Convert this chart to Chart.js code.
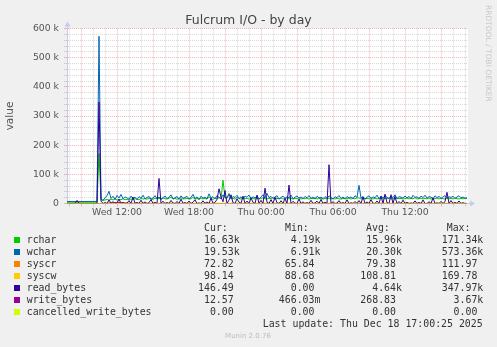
<!DOCTYPE html>
<html><head><meta charset="utf-8">
<script src="https://cdn.jsdelivr.net/npm/chart.js@4/dist/chart.umd.min.js"></script>
<style>
html,body{margin:0;padding:0;background:#f0f0f0;}
#wrap{position:relative;width:497px;height:347px;overflow:hidden;background:#f0f0f0;}
canvas{position:absolute;left:0;top:0;}
.t{position:absolute;white-space:pre;}
.mono{font-family:"DejaVu Sans Mono",monospace;font-size:9.9px;line-height:12px;color:#333;}
.sw{position:absolute;width:6px;height:6px;}
</style></head>
<body><div id="wrap"><canvas id="c" width="497" height="347"></canvas>
<div class="t" style="left:0;width:497px;top:11.5px;text-align:center;font-family:'DejaVu Sans';font-size:12.5px;line-height:15px;color:#444;">Fulcrum I/O - by day</div>
<div class="t" style="left:483.5px;top:5px;writing-mode:vertical-rl;font-family:'DejaVu Sans';font-size:7.5px;line-height:9px;color:#c8c8c8;">RRDTOOL / TOBI OETIKER</div>
<div id="legend"></div>
<div class="t mono" style="right:14.3px;top:318px;">Last update: Thu Dec 18 17:00:25 2025</div>
<div class="t" style="left:0;width:496px;text-align:center;top:331.5px;font-family:'DejaVu Sans';font-size:7px;line-height:9px;color:#bdbdbd;">Munin 2.0.76</div>
</div>
<script>
// ---- data (values in thousands) ----
const startHour = 7 + 50/60;   // Wed 07:50, hours since Wed 00:00
const stepHours = 1/6;         // 10-minute samples
const endHour = 41.25;         // Thu 17:15

const seriesNames = ['rchar','wchar','syscr','syscw','read_bytes','write_bytes','cancelled_write_bytes'];
const seriesColors = ['#00cc00','#0066b3','#ff8000','#ffcc00','#330099','#990099','#ccff00'];

const rchar = [4.3,4.2,4.3,4.2,4.4,4.3,4.2,4.3,4.2,4.3,4.2,4.3,4.2,4.4,4.3,4.3,
171.3,
13.1,10.2,12.4,
13.8,11.5,14.9,12.2,15.6,11.9,14.1,12.8,16.2,13.0,
14.6,12.3,15.8,13.4,16.7,14.0,12.9,17.1,15.2,16.4,
14.8,17.6,15.9,14.2,18.3,16.1,17.4,15.0,18.8,16.6,
15.3,17.9,21.4,15.7,17.2,14.6,16.8,19.5,15.4,16.3,
18.1,14.9,16.7,20.6,15.5,17.0,14.4,18.7,15.8,17.3,
15.1,22.8,16.4,14.3,18.5,15.9,20.1,16.2,80.2,18.4,
19.6,34.6,16.0,17.7,14.8,21.3,16.5,15.2,19.0,16.3,
17.8,14.7,20.4,16.9,15.3,18.6,14.9,17.2,19.8,16.0,
15.6,17.9,16.8,20.2,15.0,17.5,16.1,18.9,15.4,16.7,
19.3,15.8,17.6,14.9,18.2,16.4,20.0,15.3,17.0,16.2,
18.4,15.1,17.3,16.6,19.1,15.5,16.9,18.0,15.2,17.4,
16.0,18.7,15.7,17.1,15.4,17.8,16.3,15.0,17.5,16.1,
16.8,18.5,15.3,17.6,16.2,19.4,18.9,15.6,17.0,15.2,
17.7,16.0,19.2,15.1,17.9,15.8,16.9,18.8,15.5,17.2,
16.1,18.3,15.4,17.0,15.0,18.9,16.4,17.5,15.3,16.8,
18.6,15.7,17.4,16.2,19.8,15.5,16.7,18.1,15.9,17.3,
16.0,18.7,15.2,17.1,16.5,18.4,15.8,17.7,16.3,15.6,
18.2,16.1,17.2,15.7,18.6,16.6,15.4,17.5,16.2,17.0,16.63];

const wchar = [7.0,6.9,7.1,7.0,6.95,7.0,7.1,6.9,7.0,7.0,6.9,7.1,7.0,6.95,7.0,7.0,
573.4,
15.2,10.8,19.6,
26.4,41.8,17.3,24.9,14.1,27.6,18.5,31.2,16.0,22.7,
19.4,14.6,25.3,16.8,21.9,13.7,23.8,17.5,28.4,15.9,
20.6,24.2,14.8,18.9,27.1,16.2,22.5,13.9,20.1,25.8,
16.7,21.3,29.6,15.4,19.8,24.0,14.2,26.3,17.9,20.8,
24.5,15.8,20.2,31.4,16.9,22.6,13.8,25.0,18.3,21.7,
15.5,33.2,19.0,23.4,16.4,27.2,21.1,16.6,29.5,22.3,
18.1,31.8,16.0,24.1,20.3,28.0,17.2,22.9,15.1,25.6,
21.2,29.0,16.5,23.0,18.8,26.1,15.6,21.8,30.2,18.4,
34.8,20.0,24.3,16.9,22.4,26.7,15.3,20.7,25.4,17.8,
23.2,19.1,28.7,16.1,21.4,25.9,17.9,22.8,16.6,24.4,
19.6,27.3,17.2,22.1,15.0,24.8,19.3,21.6,16.8,23.7,
18.4,26.2,20.5,15.4,23.2,19.8,27.5,17.4,22.0,16.3,
23.9,19.0,22.6,16.8,26.7,21.1,62.5,18.6,23.4,15.8,
21.5,26.4,17.6,22.7,19.6,28.6,16.2,24.2,19.2,27.0,
20.8,17.1,25.1,20.2,30.0,16.6,23.1,21.9,18.1,25.7,
18.9,24.4,16.1,28.0,21.0,23.0,17.3,25.3,20.0,28.2,
17.9,23.7,21.6,16.7,26.3,20.3,24.3,17.7,22.4,27.3,
19.4,23.0,20.7,24.9,17.5,22.2,26.6,19.7,22.0,18.5,19.53];

const readBytes = [0,0,0,0,0,10.5,0,0,0,0,0,0,0,0,0,0,
348.0,
8.2,0,3.1,
0,12.4,0.5,6.3,0,2.1,14.8,0,4.6,0,
1.2,9.7,0,22.5,0.8,3.4,0,11.2,0,5.5,
0,2.7,13.6,0,4.1,0,86.0,0.6,7.9,0,
3.2,0,10.4,1.5,0,6.8,0,15.1,0.4,2.9,
0,8.6,0,4.4,12.9,0,1.8,0,9.3,0.7,
5.1,0,18.6,0,3.7,14.2,50.5,22.4,6.0,44.8,
0,11.7,30.1,2.3,0,16.5,4.9,0,25.3,0,
8.4,0,19.2,3.6,0,28.7,0,10.9,0,52.6,
4.2,0,13.4,0,21.8,2.5,0,9.6,0,17.3,
0,63.2,0,7.5,1.1,0,15.7,0,5.8,0,
3.3,0,11.0,0,2.0,8.1,0,14.3,0,4.7,
0,133.0,0,6.2,0,1.4,9.9,0,3.0,0,
12.6,0,2.4,0,7.0,0,10.1,0,23.0,0,
5.3,0,13.8,0.9,0,8.7,0,25.4,0,32.1,
2.6,0,30.2,0,24.8,0,6.6,0,11.5,0,
4.0,0,1.7,0,9.0,0,3.5,0,12.2,0,
0,5.9,0,19.4,0,2.2,0,7.3,0,6.4,
38.4,0,10.2,0,3.9,0,8.8,0,2.7,0,0.146];

// hourly samples for the tiny series
const hoursCoarse = [7.833,9,10,11,12,13,14,15,16,17,18,19,20,21,22,23,24,25,26,27,28,29,30,31,32,33,34,35,36,37,38,39,40,41,41.167];
const syscr = [0.066,0.067,0.066,0.068,0.112,0.085,0.079,0.077,0.080,0.082,0.076,0.078,0.081,0.079,0.077,0.080,0.078,0.083,0.079,0.076,0.078,0.080,0.077,0.079,0.082,0.078,0.076,0.080,0.079,0.077,0.081,0.078,0.079,0.080,0.073];
const syscw = [0.089,0.090,0.089,0.091,0.170,0.120,0.108,0.110,0.106,0.112,0.104,0.107,0.111,0.108,0.105,0.110,0.107,0.113,0.109,0.104,0.108,0.110,0.106,0.109,0.112,0.107,0.105,0.110,0.108,0.106,0.111,0.107,0.108,0.109,0.098];
const writeBytes = [0.001,0.002,0.001,0.003,3.67,0.45,0.30,0.22,0.28,0.25,0.31,0.19,0.27,0.24,0.33,0.21,0.26,0.29,0.23,0.30,0.20,0.27,0.25,0.32,0.22,0.28,0.24,0.26,0.30,0.21,0.27,0.25,0.23,0.29,0.013];
const cancelled = [0,0,0,0,0,0,0,0,0,0,0,0,0,0,0,0,0,0,0,0,0,0,0,0,0,0,0,0,0,0,0,0,0,0,0];

const xTickLabels = {12:'Wed 12:00', 18:'Wed 18:00', 24:'Thu 00:00', 30:'Thu 06:00', 36:'Thu 12:00'};

// legend table text
const legendCur = [' 16.63k',' 19.53k',' 72.82 ',' 98.14 ','146.49 ',' 12.57 ','  0.00 '];
const legendMin = ['  4.19k','  6.91k',' 65.84 ',' 88.68 ','  0.00 ','466.03m','  0.00 '];
const legendAvg = [' 15.96k',' 20.30k',' 79.38 ','108.81 ','  4.64k','268.83 ','  0.00 '];
const legendMax = ['171.34k','573.36k','111.97 ','169.78 ','347.97k','  3.67k','  0.00 '];

// ---- build ----
const t10 = rchar.map((_, i) => startHour + i * stepHours);
const seriesX = [t10, t10, hoursCoarse, hoursCoarse, t10, hoursCoarse, hoursCoarse];
const seriesY = [rchar, wchar, syscr, syscw, readBytes, writeBytes, cancelled];

const datasets = seriesNames.map((name, i) => ({
  label: name,
  data: seriesY[i].map((v, j) => ({x: seriesX[i][j], y: v})),
  borderColor: seriesColors[i],
  backgroundColor: seriesColors[i],
  borderWidth: 1,
  pointRadius: 0,
  fill: false,
  tension: 0,
  order: seriesNames.length - 1 - i
}));

// legend HTML
const leg = document.getElementById('legend');
const colStarts = [198.0, 278.8, 360.3, 441.7];
const rowCenter0 = 240, rowGap = 12;
function addText(txt, left, centerY) {
  const d = document.createElement('div');
  d.className = 't mono';
  d.style.left = left + 'px';
  d.style.top = (centerY - 6) + 'px';
  d.textContent = txt;
  leg.appendChild(d);
}
addText('Cur:', 204, 228); addText('Min:', 285, 228); addText('Avg:', 366, 228); addText('Max:', 446.7, 228);
seriesNames.forEach((n, i) => {
  const cy = rowCenter0 + i * rowGap;
  const sw = document.createElement('div');
  sw.className = 'sw';
  sw.style.left = '14px'; sw.style.top = (cy - 3) + 'px';
  sw.style.background = seriesColors[i];
  leg.appendChild(sw);
  addText(n, 26.7, cy);
  addText(legendCur[i], colStarts[0], cy);
  addText(legendMin[i], colStarts[1], cy);
  addText(legendAvg[i], colStarts[2], cy);
  addText(legendMax[i], colStarts[3], cy);
});

const majorC = 'rgba(225,100,100,0.45)';
const minorC = 'rgba(160,160,160,0.4)';
const axisC = '#c6c9f0';

const bgPlugin = {
  id: 'bg',
  beforeDraw(chart) {
    const {ctx, chartArea: a} = chart;
    ctx.save();
    ctx.fillStyle = '#f0f0f0';
    ctx.fillRect(0, 0, chart.width, chart.height);
    ctx.fillStyle = '#ffffff';
    ctx.fillRect(a.left, a.top, a.right - a.left, a.bottom - a.top);
    ctx.restore();
  }
};
const arrowPlugin = {
  id: 'arrows',
  afterDraw(chart) {
    const {ctx, chartArea: a} = chart;
    ctx.save();
    ctx.strokeStyle = axisC; ctx.fillStyle = axisC; ctx.lineWidth = 1;
    const lx = Math.round(a.left) + 0.5, by = Math.round(a.bottom) - 0.5;
    ctx.beginPath(); ctx.moveTo(lx, a.top); ctx.lineTo(lx, a.top - 3); ctx.stroke();
    ctx.beginPath(); ctx.moveTo(lx - 3, a.top - 2); ctx.lineTo(lx + 3, a.top - 2); ctx.lineTo(lx, a.top - 7); ctx.closePath(); ctx.fill();
    ctx.beginPath(); ctx.moveTo(a.right, by); ctx.lineTo(a.right + 3, by); ctx.stroke();
    ctx.beginPath(); ctx.moveTo(a.right + 2, by - 3); ctx.lineTo(a.right + 2, by + 3); ctx.lineTo(a.right + 7, by); ctx.closePath(); ctx.fill();
    ctx.restore();
  }
};

const tickFont = {family: 'DejaVu Sans', size: 9.3};
new Chart(document.getElementById('c').getContext('2d'), {
  type: 'line',
  data: {datasets},
  options: {
    responsive: false, animation: false, devicePixelRatio: 1,
    parsing: true,
    layout: {padding: {top: 28.5, left: 0, right: 29, bottom: 123.5}},
    plugins: {legend: {display: false}, tooltip: {enabled: false}, title: {display: false}},
    scales: {
      x: {
        type: 'linear', min: startHour, max: endHour,
        afterFit: s => { s.height = 20; },
        ticks: {stepSize: 1, autoSkip: false, maxRotation: 0, minRotation: 0, includeBounds: false,
          padding: 1, color: '#555', font: tickFont,
          callback: v => xTickLabels[v] !== undefined ? xTickLabels[v] : ''},
        grid: {color: c => (c.tick && c.tick.value % 3 === 0) ? majorC : minorC, lineWidth: 1, tickLength: 3},
        border: {display: true, color: axisC, width: 1, dash: [1, 1]}
      },
      y: {
        type: 'linear', min: 0, max: 600,
        afterFit: s => { s.width = 67; },
        ticks: {stepSize: 20, autoSkip: false, padding: 5, color: '#555', font: tickFont,
          callback: v => v % 100 === 0 ? (v === 0 ? '0' : v + ' k') : ''},
        grid: {color: c => (c.tick && c.tick.value % 100 === 0) ? majorC : minorC, lineWidth: 1, tickLength: 3},
        border: {display: true, color: axisC, width: 1, dash: [1, 1]},
        title: {display: true, text: 'value', color: '#555', font: {family: 'DejaVu Sans', size: 10.5}}
      }
    }
  },
  plugins: [bgPlugin, arrowPlugin]
});
</script>
</body></html>
